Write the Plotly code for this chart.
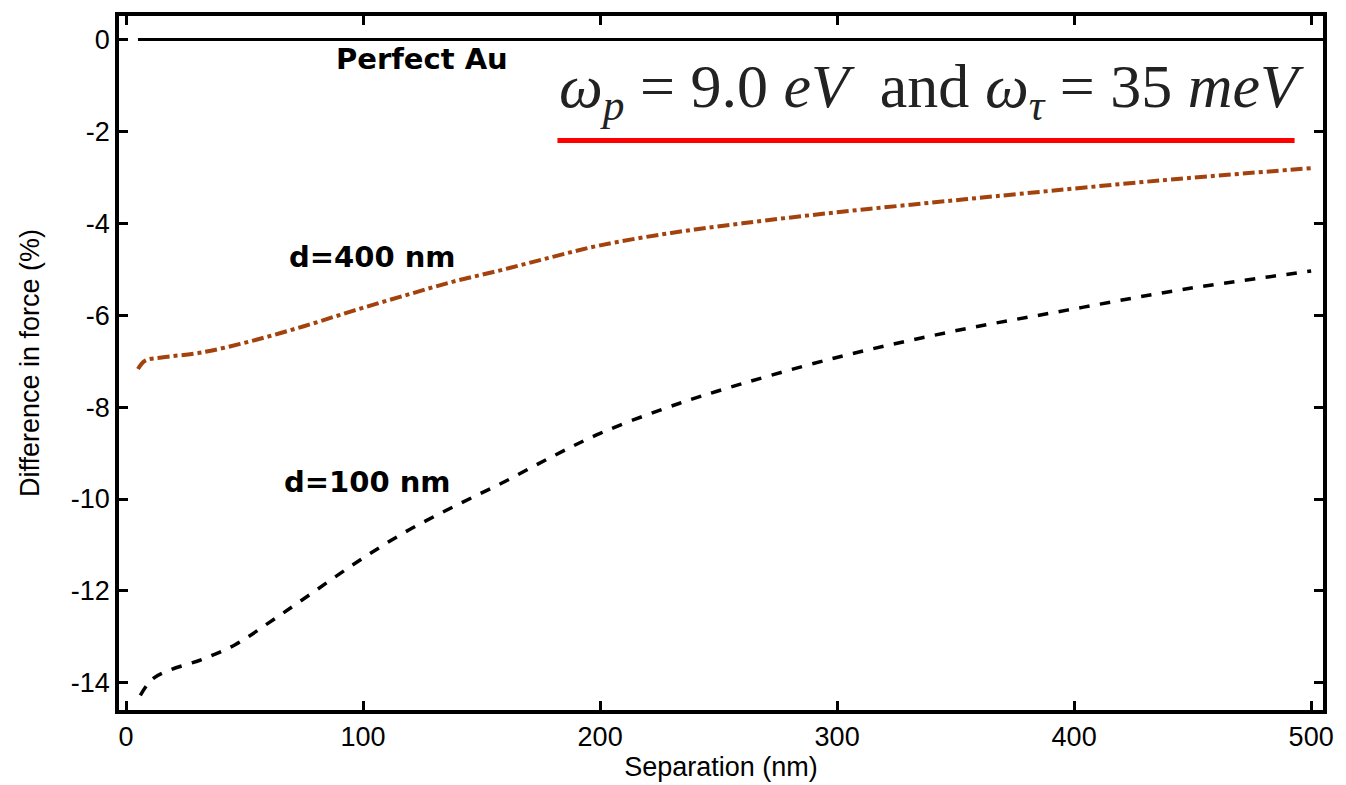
import plotly.graph_objects as go

# ---- data ----
sep_400 = [5, 8, 15, 32, 53, 75, 96, 117, 138, 159, 180, 200, 230, 260, 300, 340, 377, 436, 500]
diff_400 = [-7.17, -6.99, -6.92, -6.81, -6.56, -6.24, -5.90, -5.58, -5.27, -5.01, -4.73,
            -4.48, -4.21, -4.00, -3.76, -3.55, -3.36, -3.07, -2.80]

sep_100 = [6, 11, 18, 32, 46, 60, 75, 96, 117, 138, 159, 180, 200, 225, 249, 299, 348, 397, 447, 500]
diff_100 = [-14.27, -13.92, -13.73, -13.49, -13.17, -12.70, -12.17, -11.42, -10.74, -10.17,
            -9.64, -9.07, -8.57, -8.07, -7.66, -6.93, -6.36, -5.89, -5.43, -5.04]

sep_perfect = [5, 505]
diff_perfect = [0, 0]

x_ticks = [0, 100, 200, 300, 400, 500]
x_ticktext = ["0", "100", "200", "300", "400", "500"]
y_ticks = [0, -2, -4, -6, -8, -10, -12, -14]
y_ticktext = ["0", "-2", "-4", "-6", "-8", "-10", "-12", "-14"]

label_perfect = "Perfect Au"
label_400 = "d=400 nm"
label_100 = "d=100 nm"
formula = ("<i>ω</i><sub><i>p</i></sub> = 9.0 <i>eV</i>  and <i>ω</i><sub><i>τ</i></sub>"
           " = 35 <i>meV</i>")

fig = go.Figure()
fig.add_trace(go.Scatter(x=sep_perfect, y=diff_perfect, mode="lines",
                         line=dict(color="black", width=3), showlegend=False))
fig.add_trace(go.Scatter(x=sep_400, y=diff_400, mode="lines", line_shape="spline",
                         line=dict(color="#A3420C", width=4, dash="dashdot"), showlegend=False))
fig.add_trace(go.Scatter(x=sep_100, y=diff_100, mode="lines", line_shape="spline",
                         line=dict(color="black", width=3.5, dash="dash"), showlegend=False))

bold_font = dict(family="DejaVu Sans, Arial, sans-serif", size=29, color="black")
fig.add_annotation(x=125, y=-0.42, text="<b>" + label_perfect + "</b>", showarrow=False,
                   font=bold_font, xanchor="center", yanchor="middle")
fig.add_annotation(x=104, y=-4.74, text="<b>" + label_400 + "</b>", showarrow=False,
                   font=bold_font, xanchor="center", yanchor="middle")
fig.add_annotation(x=102, y=-9.63, text="<b>" + label_100 + "</b>", showarrow=False,
                   font=bold_font, xanchor="center", yanchor="middle")
fig.add_annotation(x=340, y=-1.12, text=formula, showarrow=False,
                   font=dict(family="Liberation Serif, Times New Roman, serif", size=62, color="#222"),
                   xanchor="center", yanchor="middle")
fig.add_shape(type="line", x0=182, x1=493, y0=-2.2, y1=-2.2, xref="x", yref="y",
              line=dict(color="#FF0000", width=5))

axis_font = dict(family="Liberation Sans, Arial, sans-serif", size=27, color="black")
title_font = dict(family="Liberation Sans, Arial, sans-serif", size=27, color="black")
fig.update_xaxes(range=[-3, 505], tickvals=x_ticks, ticktext=x_ticktext,
                 ticks="inside", ticklen=9, tickwidth=2.5, tickcolor="black",
                 showline=True, linewidth=3.5, linecolor="black", mirror="ticks",
                 showgrid=False, zeroline=False, tickfont=axis_font,
                 title=dict(text="Separation (nm)", font=title_font, standoff=2))
fig.update_yaxes(range=[-14.59, 0.51], tickvals=y_ticks, ticktext=y_ticktext,
                 ticks="inside", ticklen=9, tickwidth=2.5, tickcolor="black",
                 showline=True, linewidth=3.5, linecolor="black", mirror="ticks",
                 showgrid=False, zeroline=False, tickfont=axis_font,
                 title=dict(text="Difference in force (%)", font=title_font, standoff=24))
fig.update_layout(width=1346, height=785, margin=dict(l=119, r=23, t=12, b=69),
                  paper_bgcolor="white", plot_bgcolor="white")
fig.write_html("out.html")
